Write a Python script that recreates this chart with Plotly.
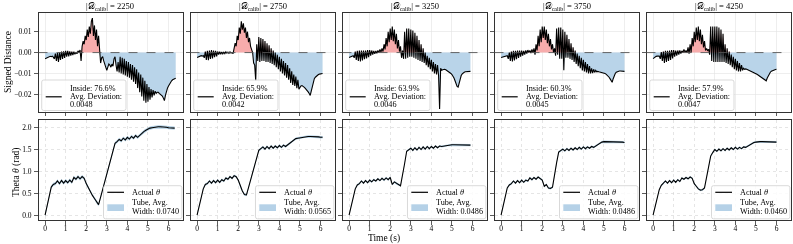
import numpy as np
import plotly.graph_objects as go

# ---------------- data ----------------
calib_sizes = [2250, 2750, 3250, 3750, 4250]
inside_pct = [76.6, 65.9, 63.9, 60.3, 57.9]
avg_dev = [0.0048, 0.0042, 0.0046, 0.0045, 0.0047]
tube_width = [0.0740, 0.0565, 0.0486, 0.0486, 0.0460]

dt_dist = 0.05   # s, sampling of signed-distance series
dt_theta = 0.1   # s, sampling of theta series
dist_unit = 1e-4
theta_unit = 0.01

# signed distance (units of 1e-4), one row per second
dist_2250 = [
    -29, -27, -25, -22, -20, -18, -20, -17, -22, -30, -5, -40, -2, -45, 0, -35, 5, -30, 6, -25,
    8, -20, 8, -18, 6, -15, 5, -12, 4, -8, 2, -6, 8, 0, 12, -40, 30, 55, 40, 80,
    60, 110, 75, 125, 90, 150, 165, 80, 130, 60, 110, 30, 80, 10, -50, -25, -20, -40, -55, -70,
    -85, -70, -55, -60, -70, -55, -65, -30, -20, -60, -90, -45, -95, -20, -100, -25, -105, -30, -110, -40,
    -115, -45, -120, -55, -130, -60, -140, -70, -150, -80, -170, -95, -190, -105, -210, -120, -230, -135, -240, -150,
    -235, -165, -225, -175, -215, -180, -205, -185, -195, -190, -190, -195, -198, -202, -208, -218, -230, -205, -185, -170,
    -160, -150, -140, -135, -130, -127, -125, -123,
]
dist_2750 = [
    -24, -22, -20, -18, -15, -17, -14, -25, 5, -35, 8, -37, 10, -30, 12, -28, 10, -22, 8, -18,
    5, -10, 4, -8, 3, -6, 2, -5, 4, -3, 2, -4, 3, -2, 0, -5, 20, 45, 30, 80,
    60, 120, 90, 150, 110, 140, 95, 120, 70, 100, 50, 70, 30, 15, 0, -50, -60, -135, 40, -40,
    75, -45, 70, -40, 65, -40, 55, -45, 45, -45, 35, -50, 20, -55, 10, -60, 0, -70, -10, -80,
    -20, -90, -30, -100, -40, -110, -50, -120, -60, -130, -75, -145, -90, -155, -105, -160, -115, -170, -130, -175,
    -165, -160, -158, -160, -165, -170, -175, -180, -188, -196, -205, -185, -160, -140, -125, -118, -112, -108, -105, -103,
    -102, -101, -100,
]
dist_3250 = [
    -24, -22, -20, -18, -15, -25, 5, -35, 8, -40, 10, -42, 10, -38, 10, -32, 10, -28, 12, -22,
    12, -15, 10, -10, 8, -6, 8, -4, 10, 0, 15, 2, 20, 5, 40, 15, 70, 30, 100, 50,
    115, 60, 125, 55, 110, 40, 90, 20, 60, 5, 30, -25, 10, -30, 100, -30, 115, -25, 115, -20,
    110, -20, 105, -25, 95, -30, 80, -35, 60, -40, 40, -45, 20, -50, 0, -60, -15, -70, -25, -80,
    -35, -90, -45, -100, -55, -105, -60, -110, -270, -75, -85, -82, -80, -80, -82, -85, -88, -92, -96, -100,
    -105, -112, -122, -135, -150, -162, -165, -145, -125, -110, -102, -97, -94, -92, -91, -90, -90, -90, -90,
]
dist_3750 = [
    -24, -23, -21, -19, -18, -16, -15, -30, 0, -40, 5, -42, 8, -38, 8, -32, 10, -25, 10, -20,
    10, -15, 8, -10, 10, -5, 12, 0, 10, -2, 15, 0, 20, -10, 40, 10, 80, 30, 110, 50,
    125, 70, 125, 60, 110, 45, 90, 30, 65, 15, 40, 0, 20, -15, 115, -10, 120, -30, 120, -30,
    110, -85, 100, -25, 85, -25, 65, -30, 45, -35, 25, -45, 10, -55, -5, -65, -15, -75, -25, -85,
    -35, -90, -45, -95, -55, -100, -65, -100, -75, -98, -80, -95, -85, -92, -90, -92, -93, -94, -95, -96,
    -98, -100, -103, -107, -112, -118, -126, -135, -142, -125, -110, -100, -94, -91, -89, -88, -88, -89, -90, -90,
    -90,
]
dist_4250 = [
    -29, -25, -20, -18, -17, -16, -17, -30, 2, -40, 5, -50, 8, -45, 8, -40, 10, -35, 12, -28,
    12, -20, 10, -15, 10, -10, 10, -5, 8, 0, 15, 2, 10, 0, 25, -5, 40, 0, 70, 30,
    100, 50, 120, 60, 125, 55, 110, 40, 85, 25, 55, 10, 20, 10, 15, -10, 125, -40, 125, -45,
    125, -45, 125, -45, 120, -45, 110, -45, 90, -45, 40, -50, 20, -55, 5, -60, -10, -70, -20, -80,
    -30, -85, -40, -90, -50, -90, -60, -85, -75, -80, -78, -80, -82, -84, -86, -88, -90, -92, -95, -98,
    -101, -104, -107, -110, -113, -116, -119, -122, -125, -129, -135, -122, -110, -100, -94, -89, -86, -84, -82, -81,
    -80,
]

# actual theta (units of 0.01 rad), one row per second
theta_2250 = [
    0, 22, 44, 64, 70, 72, 78, 72, 79, 73,
    79, 74, 80, 75, 86, 82, 88, 83, 88, 84,
    72, 62, 55, 45, 38, 30, 24, 41, 58, 76,
    94, 111, 129, 146, 164, 168, 173, 170, 176, 172,
    178, 174, 180, 176, 182, 178, 183, 187, 191, 194,
    197, 199, 200, 201, 201, 202, 202, 202, 201, 201,
    200, 200, 199, 199,
]
theta_2750 = [
    0, 20, 40, 60, 70, 72, 78, 73, 79, 74,
    80, 75, 81, 78, 85, 82, 88, 84, 90, 88,
    80, 65, 55, 47, 46, 63, 80, 97, 114, 131,
    148, 152, 156, 151, 157, 152, 158, 153, 158, 154,
    159, 155, 160, 157, 161, 164, 168, 172, 175, 176,
    177, 178, 179, 179, 180, 180, 180, 179, 179, 179,
    178, 178,
]
theta_3250 = [
    0, 20, 40, 60, 69, 72, 78, 73, 79, 74,
    80, 76, 81, 78, 83, 79, 84, 80, 85, 81,
    86, 70, 76, 72, 70, 67, 90, 118, 146, 149,
    153, 148, 154, 149, 155, 150, 156, 151, 157, 152,
    157, 153, 158, 154, 158, 157, 158, 159, 160, 160,
    161, 161, 161, 161, 161, 161, 161, 160, 160, 160,
]
theta_3750 = [
    0, 20, 42, 62, 69, 72, 78, 73, 79, 74,
    80, 75, 80, 78, 85, 81, 86, 82, 87, 83,
    80, 66, 70, 62, 61, 64, 95, 120, 144, 148,
    151, 147, 152, 148, 153, 149, 154, 150, 155, 151,
    156, 152, 156, 153, 157, 155, 158, 162, 165, 167,
    168, 168, 168, 168, 168, 168, 167, 167, 167, 167,
    166,
]
theta_4250 = [
    0, 19, 38, 58, 68, 72, 78, 73, 79, 74,
    80, 75, 81, 77, 85, 82, 86, 83, 87, 84,
    72, 66, 60, 57, 58, 62, 85, 110, 135, 143,
    150, 146, 151, 147, 152, 148, 153, 149, 154, 150,
    155, 151, 155, 152, 156, 155, 158, 161, 164, 166,
    167, 168, 168, 168, 168, 168, 168, 168, 168, 167,
    167,
]

dist_series = [dist_2250, dist_2750, dist_3250, dist_3750, dist_4250]
theta_series = [theta_2250, theta_2750, theta_3250, theta_3750, theta_4250]

x_ticks = [0, 1, 2, 3, 4, 5, 6]
dist_ticks = [-0.02, -0.01, 0.0, 0.01]
theta_ticks = [0.0, 0.5, 1.0, 1.5, 2.0]

# ---------------- layout helpers ----------------
W, H = 793, 244
FONT = "Liberation Serif"
col_left = [38.5, 190.5, 342.5, 494.5, 646.5]
col_w = 144.0
top_row = (13.3, 111.7)
bot_row = (120.0, 220.3)
x_range = [-0.32, 6.68]
dist_range = [-0.0283, 0.0188]
theta_range = [-0.12, 2.176]

RED_FILL = "rgb(247,172,172)"
BLUE_FILL = "rgb(185,212,233)"
TUBE_FILL = "rgba(31,119,180,0.34)"
TUBE_KEY = "rgb(181,209,231)"
FRAME = "#333333"
LEG_FONT = 8.2


def fx(p):
    return p / W


def fy(p):
    return 1 - p / H


def ax_name(k, letter):
    return letter if k == 1 else f"{letter}{k}"


def rounded_box(x0, y0, x1, y1, r=2.0):
    pts = [
        ("M", [(x0 + r, y0)]), ("L", [(x1 - r, y0)]), ("Q", [(x1, y0), (x1, y0 + r)]),
        ("L", [(x1, y1 - r)]), ("Q", [(x1, y1), (x1 - r, y1)]), ("L", [(x0 + r, y1)]),
        ("Q", [(x0, y1), (x0, y1 - r)]), ("L", [(x0, y0 + r)]), ("Q", [(x0, y0), (x0 + r, y0)]),
    ]
    s = ""
    for cmd, ps in pts:
        s += cmd + " ".join(f"{fx(a):.5f},{fy(b):.5f}" for a, b in ps) + " "
    return dict(type="path", xref="paper", yref="paper", path=s + "Z",
                fillcolor="rgba(255,255,255,0.82)", line=dict(color="#cfcfcf", width=0.8),
                layer="above")


def text_ann(x, y, text, size=LEG_FONT, anchor="left", angle=0):
    return dict(x=fx(x), y=fy(y), xref="paper", yref="paper", text=text, showarrow=False,
                xanchor=anchor, yanchor="middle", textangle=angle,
                font=dict(family=FONT, size=size, color="black"))


fig = go.Figure()
layout = dict(
    template="none",
    width=W, height=H, margin=dict(l=0, r=0, t=0, b=0),
    paper_bgcolor="white", plot_bgcolor="white",
    font=dict(family=FONT, color="black", size=8),
    showlegend=False, shapes=[], annotations=[], hovermode=False,
)

axis_common = dict(
    ticks="outside", ticklen=3.5, tickwidth=0.8, tickcolor=FRAME,
    showline=True, mirror=True, linecolor=FRAME, linewidth=1,
    showgrid=True, gridwidth=0.6, zeroline=False,
    tickfont=dict(family=FONT, size=7.5, color="black"),
)

for i in range(5):
    L = col_left[i]
    R = L + col_w
    for row in range(2):
        k = i + 1 + 5 * row
        xa = ax_name(k, "x")
        ya = ax_name(k, "y")
        xkey = "xaxis" if k == 1 else f"xaxis{k}"
        ykey = "yaxis" if k == 1 else f"yaxis{k}"
        r = top_row if row == 0 else bot_row
        grid = dict(gridcolor="#e3e3e3", griddash="solid") if row == 0 else \
            dict(gridcolor="#d4d4d4", griddash="dot")
        layout[xkey] = dict(
            domain=[fx(L), fx(R)], anchor=ya, range=x_range,
            tickmode="array", tickvals=x_ticks, ticktext=[str(v) for v in x_ticks],
            showticklabels=(row == 1), ticklabelstandoff=-3, **grid, **axis_common)
        if row == 0:
            yt = dist_ticks
            ytext = [f"{v:.2f}".replace("-", "\u2212") for v in yt]
            yr = dist_range
        else:
            yt = theta_ticks
            ytext = [f"{v:.1f}" for v in yt]
            yr = theta_range
        layout[ykey] = dict(
            domain=[fy(r[1]), fy(r[0])], anchor=xa, range=yr,
            tickmode="array", tickvals=yt, ticktext=ytext,
            showticklabels=(i == 0), ticklabelstandoff=1, **grid, **axis_common)

    # ----- top: signed distance -----
    k = i + 1
    xa, ya = ax_name(k, "x"), ax_name(k, "y")
    d = np.array(dist_series[i], dtype=float) * dist_unit
    t = np.arange(len(d)) * dt_dist
    fig.add_trace(go.Scatter(x=t, y=np.minimum(d, 0), mode="lines", fill="tozeroy",
                             fillcolor=BLUE_FILL, line=dict(width=0), xaxis=xa, yaxis=ya,
                             hoverinfo="skip", name="outside (below)"))
    fig.add_trace(go.Scatter(x=t, y=np.maximum(d, 0), mode="lines", fill="tozeroy",
                             fillcolor=RED_FILL, line=dict(width=0), xaxis=xa, yaxis=ya,
                             hoverinfo="skip", name="outside (above)"))
    fig.add_trace(go.Scatter(
        x=t, y=d, mode="lines", line=dict(color="black", width=1.1), xaxis=xa, yaxis=ya,
        name=f"Inside: {inside_pct[i]:.1f}%, Avg. Deviation: {avg_dev[i]:.4f}"))
    layout["shapes"].append(dict(type="line", xref=f"{xa} domain", yref=ya, x0=0, x1=1,
                                 y0=0, y1=0, line=dict(color="#555555", width=0.9, dash="dash"),
                                 layer="above"))
    # legend (upper row): box, line key, three text lines
    layout["shapes"].append(rounded_box(L + 3.2, 80.0, L + 87.5, 110.5))
    layout["shapes"].append(dict(type="line", xref="paper", yref="paper",
                                 x0=fx(L + 7.2), x1=fx(L + 23.2), y0=fy(96.8), y1=fy(96.8),
                                 line=dict(color="black", width=1.2), layer="above"))
    layout["annotations"] += [
        text_ann(L + 29.8, 88.3, f"Inside: {inside_pct[i]:.1f}%"),
        text_ann(L + 29.8, 96.6, "Avg. Deviation:"),
        text_ann(L + 29.8, 104.6, f"{avg_dev[i]:.4f}"),
    ]
    layout["annotations"].append(dict(
        x=fx(L + col_w / 2), y=fy(6.8), xref="paper", yref="paper",
        text=f"|\U0001D49F<sub>calib</sub>| = {calib_sizes[i]}", showarrow=False,
        font=dict(family=FONT, size=8.5, color="black"), xanchor="center", yanchor="middle"))

    # ----- bottom: theta -----
    k = i + 6
    xa, ya = ax_name(k, "x"), ax_name(k, "y")
    th = np.array(theta_series[i], dtype=float) * theta_unit
    tt = np.arange(len(th)) * dt_theta
    hw = tube_width[i] / 2
    fig.add_trace(go.Scatter(
        x=np.concatenate([tt, tt[::-1]]),
        y=np.concatenate([th + hw, (th - hw)[::-1]]),
        mode="lines", fill="toself", fillcolor=TUBE_FILL, line=dict(width=0),
        xaxis=xa, yaxis=ya, name=f"Tube, Avg. Width: {tube_width[i]:.4f}", hoverinfo="skip"))
    fig.add_trace(go.Scatter(
        x=tt, y=th, mode="lines", line=dict(color="black", width=1.1), xaxis=xa, yaxis=ya,
        name="Actual \u03b8"))
    # legend (lower row)
    layout["shapes"].append(rounded_box(R - 79.0, 185.7, R - 0.6, 218.8))
    layout["shapes"].append(dict(type="line", xref="paper", yref="paper",
                                 x0=fx(R - 75.2), x1=fx(R - 58.5), y0=fy(192.3), y1=fy(192.3),
                                 line=dict(color="black", width=1.2), layer="above"))
    layout["shapes"].append(dict(type="rect", xref="paper", yref="paper",
                                 x0=fx(R - 75.2), x1=fx(R - 58.5), y0=fy(211.0), y1=fy(204.3),
                                 fillcolor=TUBE_KEY, line=dict(width=0), layer="above"))
    layout["annotations"] += [
        text_ann(R - 52.5, 192.3, "Actual <i>\u03b8</i>"),
        text_ann(R - 52.5, 202.6, "Tube, Avg."),
        text_ann(R - 52.5, 211.2, f"Width: {tube_width[i]:.4f}"),
    ]

# axis titles
layout["annotations"].append(text_ann(8.5, 62.5, "Signed Distance", size=9.5,
                                      anchor="center", angle=-90))
layout["annotations"].append(text_ann(16.0, 172.0, "Theta <i>\u03b8</i> (rad)", size=9.5,
                                      anchor="center", angle=-90))
layout["annotations"].append(text_ann(384.0, 238.8, "Time (s)", size=9.5, anchor="center"))

fig.update_layout(**layout)
page_fix = ("document.body.style.margin='0';document.body.style.overflow='hidden';"
            "var gd=document.getElementById('{plot_id}');"
            "gd.style.willChange='transform';")
fig.write_html("out.html", post_script=page_fix,
               config={"displayModeBar": False, "staticPlot": True})
